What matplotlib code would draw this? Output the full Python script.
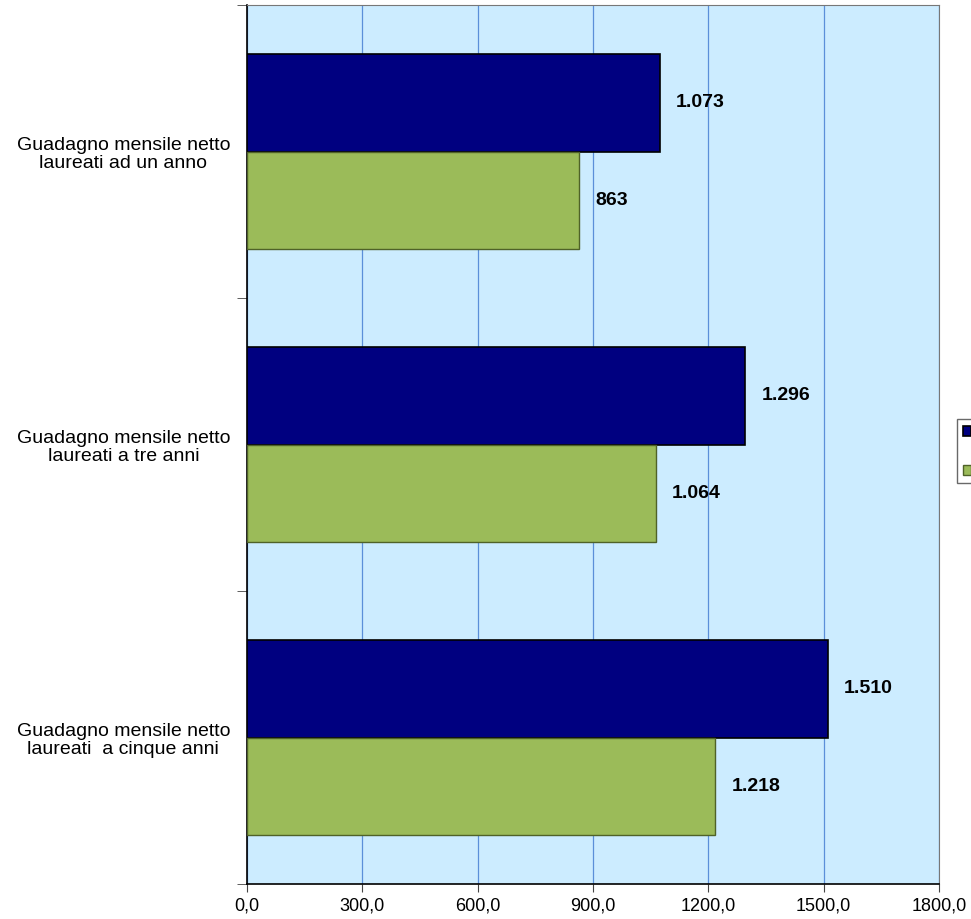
import matplotlib.pyplot as plt
import numpy as np

plt.rcParams['font.family'] = ['Liberation Sans', 'DejaVu Sans']

# Dati
categorie = ["Guadagno mensile netto\nlaureati ad un anno",
             "Guadagno mensile netto\nlaureati a tre anni",
             "Guadagno mensile netto\nlaureati  a cinque anni"]
serie_1 = [1073, 1296, 1510]
serie_2 = [863, 1064, 1218]
etichette_1 = ["1.073", "1.296", "1.510"]
etichette_2 = ["863", "1.064", "1.218"]
tick_x = [0, 300, 600, 900, 1200, 1500, 1800]

fig = plt.figure(figsize=(9.71, 9.19), dpi=100)
ax = fig.add_axes([247/971, 35/919, 692/971, 879/919])
ax.set_facecolor('#CCECFF')

y = np.arange(len(categorie))
h = 1/3
ax.barh(y - h/2, serie_1, height=h, color='#000080', edgecolor='black', linewidth=1.2, label=' ', zorder=3)
ax.barh(y + h/2, serie_2, height=h, color='#9BBB59', edgecolor='#4F6228', linewidth=1, label=' ', zorder=3)

# Etichette dei valori
for i in range(len(categorie)):
    ax.text(serie_1[i] + 42, y[i] - h/2, etichette_1[i], va='center', ha='left',
            fontsize=14, fontweight='bold', zorder=4)
    ax.text(serie_2[i] + 42, y[i] + h/2, etichette_2[i], va='center', ha='left',
            fontsize=14, fontweight='bold', zorder=4)

ax.set_xlim(0, 1800)
ax.set_ylim(len(categorie) - 0.5, -0.5)
ax.set_xticks(tick_x)
ax.set_xticklabels([f"{v},0" for v in tick_x], fontsize=13)
ax.set_yticks(y)
ax.set_yticklabels(categorie, fontsize=14, ha='center', linespacing=1.12)
ax.tick_params(axis='y', length=0, pad=89)
ax.set_yticks(np.arange(len(categorie) + 1) - 0.5, minor=True)
ax.tick_params(axis='y', which='minor', length=7, direction='out', color='#444444')
ax.tick_params(axis='x', length=6, direction='out', color='#444444', pad=4)

ax.grid(axis='x', color='#5B8FD9', linewidth=0.9, zorder=0)
ax.set_axisbelow(True)
for lato in ['top', 'right']:
    ax.spines[lato].set_color('#777777')
for lato in ['left', 'bottom']:
    ax.spines[lato].set_color('black')
    ax.spines[lato].set_linewidth(1.2)

# Legenda (tagliata sul bordo destro)
fig.legend(loc='upper left', bbox_to_anchor=(957/971, 1 - 419/919), frameon=True,
           fancybox=False, edgecolor='#444444', fontsize=10, handlelength=0.6,
           handleheight=0.7, borderpad=0.4, labelspacing=1.8, borderaxespad=0)

fig.savefig('out.png', dpi=100)
